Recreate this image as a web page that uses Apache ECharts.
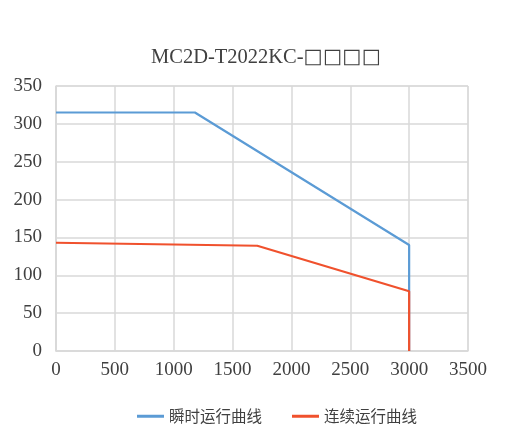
<!DOCTYPE html>
<html>
<head>
<meta charset="utf-8">
<script src="https://cdn.jsdelivr.net/npm/echarts@6/dist/echarts.min.js"></script>
<style>
html, body { margin: 0; padding: 0; background: #fff; }
#chart { width: 510px; height: 447px; }
</style>
</head>
<body>
<div id="chart"></div>
<script>
// speed (rpm) vs torque points
var peakSpeed = [0, 1180, 3000, 3000];
var peakTorque = [315, 315, 140, 0];
var contSpeed = [0, 1710, 3000, 3000];
var contTorque = [143, 139, 79, 0];
var seriesNames = ['瞬时运行曲线', '连续运行曲线'];
var titleModel = 'MC2D-T2022KC-';
var titleSuffix = '□□□□';

var zip = function (xs, ys) {
    var out = [];
    for (var i = 0; i < xs.length; i++) out.push([xs[i], ys[i]]);
    return out;
};

var serif = '"Liberation Serif", "DejaVu Serif", serif';
var gridColor = '#d9d9d9';
var textColor = '#404040';

var chart = echarts.init(document.getElementById('chart'));
chart.setOption({
    animation: false,
    title: {
        text: '{a|' + titleModel + '}{b|' + titleSuffix + '}',
        left: 146,
        top: 42,
        textStyle: {
            fontWeight: 'normal',
            rich: {
                a: { fontFamily: serif, fontSize: 20.5, fontWeight: 'normal', color: textColor },
                b: { fontFamily: '"DejaVu Sans", sans-serif', fontSize: 20.5, fontWeight: 'normal', color: textColor }
            }
        }
    },
    legend: {
        bottom: 18,
        left: 132,
        itemWidth: 27,
        itemHeight: 3,
        itemGap: 30,
        icon: 'rect',
        textStyle: { fontFamily: '"Noto Sans CJK SC", sans-serif', fontSize: 15.5, color: textColor },
        data: seriesNames
    },
    grid: { left: 56, right: 42, top: 86, bottom: 96, show: true, borderColor: gridColor, borderWidth: 1 },
    xAxis: {
        type: 'value', min: 0, max: 3500, interval: 500,
        axisLine: { lineStyle: { color: gridColor, width: 1.5 } },
        axisTick: { show: false },
        splitLine: { lineStyle: { color: gridColor, width: 1.5 } },
        axisLabel: {
            fontFamily: serif, fontSize: 19, color: textColor, margin: 10,
            formatter: function (v) { return String(v); }
        }
    },
    yAxis: {
        type: 'value', min: 0, max: 350, interval: 50,
        axisLine: { show: true, lineStyle: { color: gridColor, width: 1.5 } },
        axisTick: { show: false },
        splitLine: { lineStyle: { color: gridColor, width: 1.5 } },
        axisLabel: { fontFamily: serif, fontSize: 19, color: textColor, margin: 14 }
    },
    series: [
        {
            name: seriesNames[0], type: 'line', data: zip(peakSpeed, peakTorque),
            symbol: 'none', z: 2,
            lineStyle: { color: '#5b9bd5', width: 2.2 }, itemStyle: { color: '#5b9bd5' }
        },
        {
            name: seriesNames[1], type: 'line', data: zip(contSpeed, contTorque),
            symbol: 'none', z: 3,
            lineStyle: { color: '#f0512d', width: 2.2 }, itemStyle: { color: '#f0512d' }
        }
    ]
});
</script>
</body>
</html>
